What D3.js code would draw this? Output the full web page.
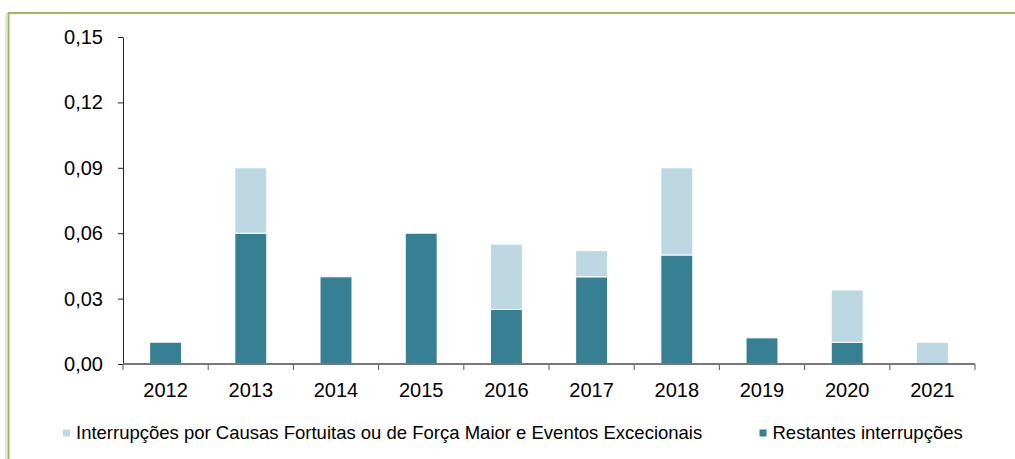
<!DOCTYPE html>
<html lang="pt">
  <head>
    <meta charset="UTF-8" />
    <title>Interrupções</title>
    <script src="https://cdn.jsdelivr.net/npm/d3@7"></script>
    <style>
      body {
        margin: 0;
        padding: 0;
        background: #fff;
        font-family: Arial, "Liberation Sans", sans-serif;
      }
      .tick text {
        font-size: 20px;
        fill: #000;
      }
      .legend text {
        font-size: 18.5px;
        fill: #000;
      }
    </style>
  </head>
  <body>
    <svg id="chart"></svg>
    <script>
      // dados
      const anos = ["2012", "2013", "2014", "2015", "2016", "2017", "2018", "2019", "2020", "2021"];
      const restantes = [0.01, 0.06, 0.04, 0.06, 0.025, 0.04, 0.05, 0.012, 0.01, 0];
      const fortuitas = [0, 0.03, 0, 0, 0.03, 0.012, 0.04, 0, 0.024, 0.01];
      const yTicks = [0, 0.03, 0.06, 0.09, 0.12, 0.15];
      const series = [
        { key: "restantes", nome: "Restantes interrupções", cor: "#377F93" },
        { key: "fortuitas", nome: "Interrupções por Causas Fortuitas ou de Força Maior e Eventos Excecionais", cor: "#BDD8E3" },
      ];

      const width = 1015;
      const height = 459;
      const margin = { left: 123, right: 40, top: 37, bottom: 95 };

      const svg = d3.select("#chart").attr("width", width).attr("height", height);

      // moldura verde
      svg.append("line")
        .attr("x1", 6).attr("x2", 6).attr("y1", 13).attr("y2", height)
        .attr("stroke", "#e4e4e4").attr("stroke-width", 2);
      svg.append("path")
        .attr("d", `M8.5,${height} V13 H${width}`)
        .attr("fill", "none")
        .attr("stroke", "#9BBB59")
        .attr("stroke-width", 2);

      const x = d3.scaleBand()
        .domain(anos)
        .range([margin.left, 975])
        .paddingInner(0.625)
        .paddingOuter(0.3125);

      const y = d3.scaleLinear()
        .domain([0, 0.15])
        .range([364, margin.top]);

      const tabela = anos.map((a, i) => ({ ano: a, restantes: restantes[i], fortuitas: fortuitas[i] }));
      const stack = d3.stack().keys(series.map((s) => s.key));
      const camadas = stack(tabela);

      const g = svg.append("g");
      camadas.forEach((camada, k) => {
        g.append("g")
          .attr("fill", series[k].cor)
          .selectAll("rect")
          .data(camada.filter((d) => d[1] - d[0] > 0))
          .join("rect")
          .attr("x", (d) => x(d.data.ano))
          .attr("width", x.bandwidth())
          .attr("y", (d) => y(d[1]))
          .attr("height", (d) => y(d[0]) - y(d[1]))
          .attr("stroke", "#fff")
          .attr("stroke-width", 1);
      });

      // eixo y
      const fmt = (d) => d3.format(".2f")(d).replace(".", ",");
      const yAxis = svg.append("g")
        .attr("transform", `translate(${margin.left},0)`)
        .call(d3.axisLeft(y).tickValues(yTicks).tickFormat(fmt).tickSize(5).tickPadding(15).tickSizeOuter(0));
      yAxis.select(".domain").attr("stroke", "#222");
      yAxis.selectAll(".tick line").attr("stroke", "#222");
      yAxis.selectAll("text").attr("font-family", "Arial, 'Liberation Sans', sans-serif");

      // eixo x (marcas entre categorias)
      const xAxis = svg.append("g")
        .attr("transform", `translate(0,364)`)
        .call(d3.axisBottom(x).tickSize(0).tickPadding(19));
      xAxis.select(".domain").remove();
      xAxis.selectAll("text").attr("font-family", "Arial, 'Liberation Sans', sans-serif");
      const step = x.step();
      const limites = anos.map((a) => x(a) + x.bandwidth() / 2 - step / 2).concat([x(anos[anos.length - 1]) + x.bandwidth() / 2 + step / 2]);
      xAxis.selectAll(".sep")
        .data(limites)
        .join("line")
        .attr("class", "sep")
        .attr("x1", (d) => d).attr("x2", (d) => d)
        .attr("y1", 0).attr("y2", 6)
        .attr("stroke", "#555");
      xAxis.append("line")
        .attr("x1", limites[0]).attr("x2", limites[limites.length - 1])
        .attr("y1", 0).attr("y2", 0)
        .attr("stroke", "#777")
        .attr("stroke-width", 2);

      // legenda
      const legenda = svg.append("g").attr("class", "legend");
      const itens = [
        { s: series[1], x: 63 },
        { s: series[0], x: 759.5 },
      ];
      itens.forEach((it) => {
        legenda.append("rect")
          .attr("x", it.x).attr("y", 429.5)
          .attr("width", 7).attr("height", 7)
          .attr("fill", it.s.cor);
        legenda.append("text")
          .attr("x", it.x + 13)
          .attr("y", 438.5)
          .attr("font-family", "Arial, 'Liberation Sans', sans-serif")
          .text(it.s.nome);
      });
    </script>
  </body>
</html>
